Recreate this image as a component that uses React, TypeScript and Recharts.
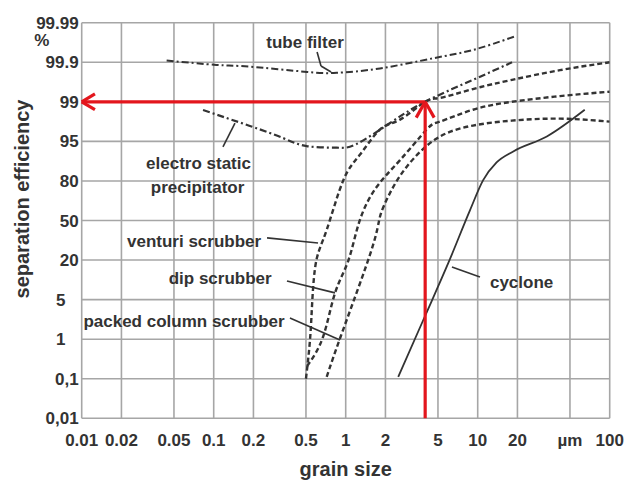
import { LineChart, Line, XAxis, YAxis, CartesianGrid, ReferenceLine, ReferenceDot, Label } from "recharts";

// Separation efficiency of dust collectors vs. grain size.
// x: log grain size (µm), y: probability-style efficiency scale with evenly spaced ticks.

const X_TICKS = [0.01, 0.02, 0.05, 0.1, 0.2, 0.5, 1, 2, 5, 10, 20, 50, 100];
const X_LABELS = ["0.01", "0.02", "0.05", "0.1", "0.2", "0.5", "1", "2", "5", "10", "20", "µm", "100"];

const Y_VALUES = [0.01, 0.1, 1, 5, 20, 50, 80, 95, 99, 99.9, 99.99];
const Y_LABELS = ["0,01", "0,1", "1", "5", "20", "50", "80", "95", "99", "99.9", "99.99"];

// curves: grain size (µm) / efficiency (%)
const TUBE_X = [0.044, 0.105, 0.188, 0.51, 0.855, 1.82, 4.58, 9.2, 19.2];
const TUBE_Y = [99.904, 99.84, 99.8, 99.68, 99.66, 99.76, 99.909, 99.928, 99.959];

const ESP_X = [0.083, 0.188, 0.335, 0.507, 0.855, 1.21, 2.17, 3.99, 9.2, 18.2];
const ESP_Y = [98.17, 96.56, 95.34, 93.2, 92.6, 94.0, 96.86, 99.0, 99.5, 99.9];

const VENTURI_X = [0.5, 0.537, 0.559, 0.6, 0.718, 0.96, 1.28, 1.82, 2.58, 3.99, 5.18, 9.2, 18.2, 42, 100];
const VENTURI_Y = [0.1, 1, 5, 20, 42.9, 80.3, 89.9, 96.2, 97.2, 99.0, 99.09, 99.29, 99.5, 99.72, 99.9];

const DIP_X = [0.51, 0.673, 0.83, 1.05, 1.28, 1.72, 2.58, 4.11, 5.18, 9.2, 18.1, 42, 100];
const DIP_Y = [0.39, 1.22, 7.5, 20, 50.3, 75.6, 87.9, 96.2, 97.0, 98.2, 99.0, 99.13, 99.23];

const PACKED_X = [0.718, 0.954, 1.57, 1.82, 2.17, 2.9, 4.89, 9.2, 18.1, 42, 100];
const PACKED_Y = [0.145, 1.92, 27.8, 53, 71, 85.4, 95.3, 96.6, 97.1, 97.3, 97.0];

const CYCLONE_X = [2.5, 3.87, 5.98, 8.75, 11.0, 13.9, 18.6, 33.4, 64.7];
const CYCLONE_Y = [0.145, 2.94, 18.8, 57.9, 80.3, 87.0, 91.2, 95.5, 98.2];

const INK = "#333";
const RED = "#e3161d";
const FONT = "'Liberation Sans', Arial, sans-serif";

// efficiency % -> position on the evenly spaced tick scale
function toIdx(v: number) {
  for (let i = 0; i < Y_VALUES.length - 1; i++) {
    if (v <= Y_VALUES[i + 1]) return i + (v - Y_VALUES[i]) / (Y_VALUES[i + 1] - Y_VALUES[i]);
  }
  return Y_VALUES.length - 1;
}

const pts = (xs: number[], ys: number[]) => xs.map((x, i) => ({ x, y: toIdx(ys[i]) }));

const SERIES = [
  { key: "tube", data: pts(TUBE_X, TUBE_Y), dash: "7 3 2 3", width: 2, curve: "natural" },
  { key: "esp", data: pts(ESP_X, ESP_Y), dash: "7 3 2 3", width: 2.2, curve: "natural" },
  { key: "venturi", data: pts(VENTURI_X, VENTURI_Y), dash: "5 3", width: 2.4, curve: "natural" },
  { key: "dip", data: pts(DIP_X, DIP_Y), dash: "5 3", width: 2.4, curve: "natural" },
  { key: "packed", data: pts(PACKED_X, PACKED_Y), dash: "5 3", width: 2.4, curve: "natural" },
  { key: "cyclone", data: pts(CYCLONE_X, CYCLONE_Y), dash: undefined, width: 1.8, curve: "monotone" },
] as const;

// annotation texts: [text, x µm, y tick-index]
const NOTES: [string, number, number][] = [
  ["tube filter", 0.492, 9.51],
  ["electro static", 0.0767, 6.45],
  ["precipitator", 0.0755, 5.85],
  ["venturi scrubber", 0.071, 4.48],
  ["dip scrubber", 0.112, 3.55],
  ["packed column scrubber", 0.0596, 2.46],
  ["cyclone", 21.5, 3.445],
];

// leader lines: [x1, y1, x2, y2]
const LEADERS: [number, number, number, number][] = [
  [0.607, 9.26, 0.65, 8.905],
  [0.65, 8.905, 0.775, 8.754],
  [0.1175, 6.86, 0.145, 7.46],
  [0.2535, 4.56, 0.617, 4.43],
  [0.359, 3.47, 0.83, 3.17],
  [0.378, 2.535, 0.905, 1.98],
  [6.38, 3.825, 10.4, 3.57],
];

// red reading arrows at 4 µm / 99 %
const READ_X = 4;
const READ_Y = toIdx(99);
const ARROWS: [number, number, number, number][] = [
  [READ_X, READ_Y, 0.01, READ_Y],
  [0.01, READ_Y, 0.0126, READ_Y + 0.2],
  [0.01, READ_Y, 0.0126, READ_Y - 0.2],
  [READ_X, 0, READ_X, READ_Y],
  [READ_X, READ_Y, 3.42, READ_Y - 0.4],
  [READ_X, READ_Y, 4.68, READ_Y - 0.4],
];

const tickStyle = { fontFamily: FONT, fontWeight: 700, fontSize: 17, fill: INK };

function YTick({ x, y, payload }: any) {
  const label = Y_LABELS[payload.value];
  const short = label.length === 1;
  return (
    <g>
      <text x={short ? x - 21 : x - 3} y={y + 6} textAnchor={short ? "middle" : "end"} {...tickStyle}>
        {label}
      </text>
      {payload.value === Y_VALUES.length - 1 && (
        <text x={x - 40} y={y + 23} textAnchor="middle" {...tickStyle}>%</text>
      )}
    </g>
  );
}

function XTick({ x, y, payload }: any) {
  const i = X_TICKS.indexOf(payload.value);
  return (
    <text x={x} y={y + 28} textAnchor="middle" {...tickStyle}>
      {X_LABELS[i]}
    </text>
  );
}

const noteShape = (text: string) => (p: any) => (
  <text x={p.cx} y={p.cy + 6} textAnchor="middle" {...tickStyle}>
    {text}
  </text>
);

export default function App() {
  return (
    <div style={{ position: "absolute", left: 0, top: 0, width: 632, height: 484, background: "#fff" }}>
      <LineChart width={632} height={484} margin={{ top: 22.7, right: 22.3, bottom: 25.7, left: 11.7 }}>
        <CartesianGrid stroke="#a6a6a6" strokeWidth={1.6} />
        <XAxis
          dataKey="x"
          type="number"
          scale="log"
          domain={[0.01, 100]}
          ticks={X_TICKS}
          interval={0}
          allowDataOverflow
          tick={<XTick />}
          tickLine={false}
          axisLine={false}
          tickSize={0}
          tickMargin={0}
          height={40}
        >
          <Label
            content={({ viewBox }: any) => (
              <text x={viewBox.x + viewBox.width / 2} y={viewBox.y + 57.7} textAnchor="middle" fontFamily={FONT} fontWeight={700} fontSize={20} fill={INK}>
                grain size
              </text>
            )}
          />
        </XAxis>
        <YAxis
          dataKey="y"
          type="number"
          domain={[0, Y_VALUES.length - 1]}
          ticks={Y_VALUES.map((_, i) => i)}
          interval={0}
          tick={<YTick />}
          tickLine={false}
          axisLine={false}
          tickSize={0}
          tickMargin={0}
          width={70}
        >
          <Label
            content={({ viewBox }: any) => {
              const cx = viewBox.x + 10.3;
              const cy = viewBox.y + 176.3;
              return (
                <text x={cx} y={cy} transform={`rotate(-90 ${cx} ${cy})`} textAnchor="middle" dominantBaseline="central" fontFamily={FONT} fontWeight={700} fontSize={20} fill={INK}>
                  separation efficiency
                </text>
              );
            }}
          />
        </YAxis>

        {SERIES.map((s) => (
          <Line
            key={s.key}
            data={s.data}
            dataKey="y"
            type={s.curve}
            stroke={INK}
            strokeWidth={s.width}
            strokeDasharray={s.dash}
            dot={false}
            activeDot={false}
            isAnimationActive={false}
          />
        ))}

        {LEADERS.map(([x1, y1, x2, y2], i) => (
          <ReferenceLine key={`l${i}`} segment={[{ x: x1, y: y1 }, { x: x2, y: y2 }]} stroke={INK} strokeWidth={1.6} ifOverflow="visible" />
        ))}

        {ARROWS.map(([x1, y1, x2, y2], i) => (
          <ReferenceLine key={`a${i}`} segment={[{ x: x1, y: y1 }, { x: x2, y: y2 }]} stroke={RED} strokeWidth={3.2} ifOverflow="visible" />
        ))}

        {NOTES.map(([text, x, y]) => (
          <ReferenceDot key={text} x={x} y={y} r={0} ifOverflow="visible" shape={noteShape(text)} />
        ))}
      </LineChart>
    </div>
  );
}
